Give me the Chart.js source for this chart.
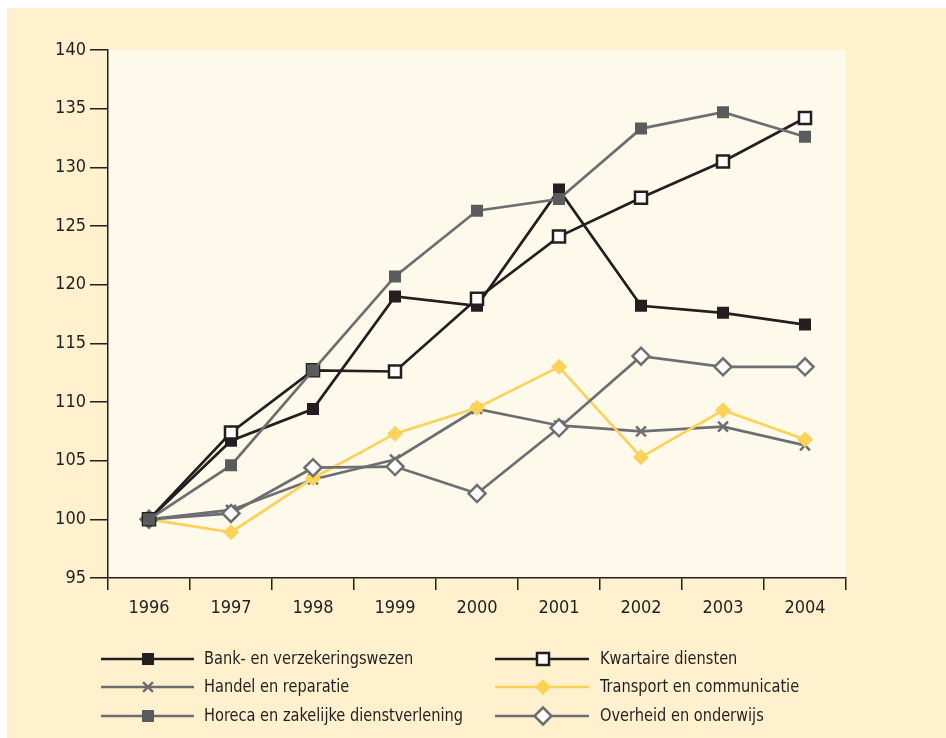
<!DOCTYPE html>
<html>
<head>
<meta charset="utf-8">
<script src="https://cdn.jsdelivr.net/npm/chart.js@4/dist/chart.umd.min.js"></script>
<style>
  html, body { margin: 0; padding: 0; background: #ffffff; }
  #wrap { width: 946px; height: 738px; }
</style>
</head>
<body>
<div id="wrap"><canvas id="c" width="946" height="738"></canvas></div>
<script>
const years = ['1996', '1997', '1998', '1999', '2000', '2001', '2002', '2003', '2004'];
const bank      = [100, 106.7, 109.4, 119.0, 118.2, 128.1, 118.2, 117.6, 116.6];
const kwartaire = [100, 107.4, 112.7, 112.6, 118.8, 124.1, 127.4, 130.5, 134.2];
const handel    = [100, 100.8, 103.4, 105.1, 109.4, 108.0, 107.5, 107.9, 106.3];
const transport = [100, 98.9, 103.5, 107.3, 109.5, 113.0, 105.3, 109.3, 106.8];
const horeca    = [100, 104.6, 112.7, 120.7, 126.3, 127.3, 133.3, 134.7, 132.6];
const overheid  = [100, 100.5, 104.4, 104.5, 102.2, 107.8, 113.9, 113.0, 113.0];
const yTicks = { min: 95, max: 140, step: 5 };

const FONT = "'Liberation Sans Narrow', 'DejaVu Sans Condensed', 'Arial Narrow', sans-serif";
const INK = '#231F20';
const GRAY = '#6D6E71';
const DGRAY = '#5A5B5D';
const YEL = '#FDD257';

const datasets = [
  { label: 'Bank- en verzekeringswezen', data: bank, borderColor: INK, backgroundColor: INK,
    pointStyle: 'rect', pointRadius: 8.5, pointBorderWidth: 0, pointBackgroundColor: INK, pointBorderColor: INK, order: 3 },
  { label: 'Kwartaire diensten', data: kwartaire, borderColor: INK, backgroundColor: '#FFFFFF',
    pointStyle: 'rect', pointRadius: 8.5, pointBorderWidth: 2.5, pointBackgroundColor: '#FFFFFF', pointBorderColor: INK, order: 1 },
  { label: 'Handel en reparatie', data: handel, borderColor: GRAY, backgroundColor: GRAY,
    pointStyle: 'crossRot', pointRadius: 7, pointBorderWidth: 2.5, pointBackgroundColor: GRAY, pointBorderColor: GRAY, order: 5 },
  { label: 'Transport en communicatie', data: transport, borderColor: YEL, backgroundColor: YEL,
    pointStyle: 'rectRot', pointRadius: 8, pointBorderWidth: 0, pointBackgroundColor: YEL, pointBorderColor: YEL, order: 4 },
  { label: 'Horeca en zakelijke dienstverlening', data: horeca, borderColor: GRAY, backgroundColor: DGRAY,
    pointStyle: 'rect', pointRadius: 8.5, pointBorderWidth: 0, pointBackgroundColor: DGRAY, pointBorderColor: DGRAY, order: 0 },
  { label: 'Overheid en onderwijs', data: overheid, borderColor: GRAY, backgroundColor: '#FFFFFF',
    pointStyle: 'rectRot', pointRadius: 8.5, pointBorderWidth: 2.5, pointBackgroundColor: '#FFFFFF', pointBorderColor: GRAY, order: 2 }
];
datasets.forEach(d => { d.borderWidth = 2.7; d.tension = 0; d.fill = false; d.pointHoverRadius = d.pointRadius; });

const bgPlugin = {
  id: 'bg',
  beforeDraw(chart) {
    const ctx = chart.ctx, a = chart.chartArea;
    ctx.save();
    ctx.fillStyle = '#FFFFFF';
    ctx.fillRect(0, 0, chart.width, chart.height);
    ctx.fillStyle = '#FFF0CE';
    ctx.fillRect(7, 8, chart.width - 7, chart.height - 8);
    ctx.fillStyle = '#FEFAEB';
    ctx.fillRect(a.left, a.top, a.right - a.left, a.bottom - a.top);
    ctx.restore();
  }
};

const legendPlugin = {
  id: 'customLegend',
  afterDraw(chart) {
    const ctx = chart.ctx;
    const cols = [{ x0: 101, x1: 194, m: 148, t: 204 }, { x0: 495, x1: 589, m: 543, t: 600 }];
    const rows = [659, 687, 716];
    ctx.save();
    chart.data.datasets.forEach((d, i) => {
      const c = cols[i % 2], y = rows[Math.floor(i / 2)];
      ctx.strokeStyle = d.borderColor;
      ctx.lineWidth = d.borderWidth;
      ctx.beginPath();
      ctx.moveTo(c.x0, y);
      ctx.lineTo(c.x1, y);
      ctx.stroke();
      ctx.fillStyle = d.pointBackgroundColor;
      ctx.strokeStyle = d.pointBorderColor;
      ctx.lineWidth = d.pointBorderWidth;
      Chart.helpers.drawPoint(ctx, { pointStyle: d.pointStyle, radius: d.pointRadius, rotation: 0, borderWidth: d.pointBorderWidth }, c.m, y);
      ctx.save();
      ctx.translate(c.t, y);
      ctx.scale(0.9, 1);
      ctx.fillStyle = INK;
      ctx.font = '18px ' + FONT;
      ctx.textBaseline = 'middle';
      ctx.textAlign = 'left';
      ctx.fillText(d.label, 0, 0);
      ctx.restore();
    });
    ctx.restore();
  }
};

new Chart(document.getElementById('c'), {
  type: 'line',
  data: { labels: years, datasets: datasets },
  plugins: [bgPlugin, legendPlugin],
  options: {
    responsive: false,
    animation: false,
    layout: { padding: { left: 0, top: 50, right: 100, bottom: 115 } },
    plugins: { legend: { display: false }, tooltip: { enabled: false } },
    scales: {
      x: {
        type: 'category',
        offset: true,
        afterFit(scale) { scale.height = 45; },
        grid: { offset: true, drawOnChartArea: false, tickLength: 12, color: INK, lineWidth: 1.5 },
        border: { display: true, color: INK, width: 1.5 },
        ticks: { color: INK, font: { family: FONT, size: 18 }, padding: 8, maxRotation: 0 }
      },
      y: {
        min: yTicks.min, max: yTicks.max,
        afterFit(scale) { scale.width = 108; },
        grid: { drawOnChartArea: false, tickLength: 18, color: INK, lineWidth: 1.5 },
        border: { display: true, color: INK, width: 1.5 },
        ticks: { stepSize: yTicks.step, color: INK, font: { family: FONT, size: 18 }, padding: 4 }
      }
    }
  }
});
</script>
</body>
</html>
